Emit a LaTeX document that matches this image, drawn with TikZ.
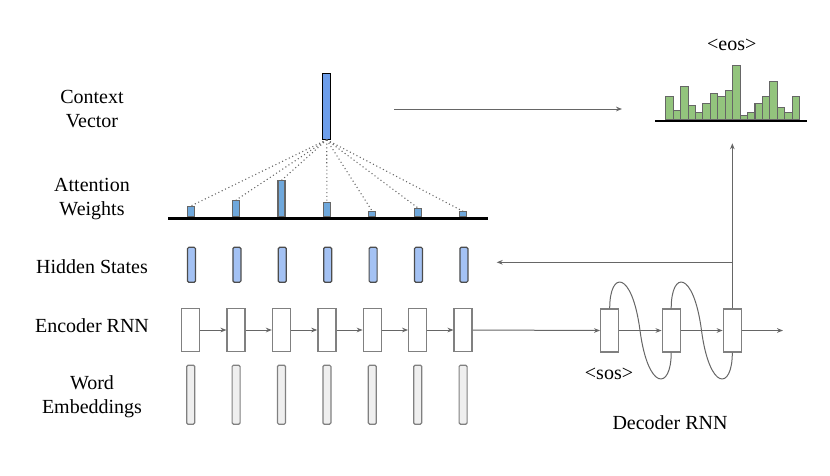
\documentclass[tikz,border=0pt]{standalone}
\usepackage{fontspec}
\setmainfont{Liberation Serif}
\usetikzlibrary{arrows.meta,calc}
\definecolor{ctxblue}{HTML}{6D9EEB}
\definecolor{attblue}{HTML}{6FA8DC}
\definecolor{hidblue}{HTML}{A4C2F4}
\definecolor{wordgray}{HTML}{EFEFEF}
\definecolor{boxgray}{HTML}{808080}
\definecolor{linegray}{HTML}{666666}
\definecolor{bargreen}{HTML}{93C47D}
\tikzset{
  lbl/.style={font=\fontsize{15}{18}\selectfont, align=center, inner sep=0pt},
  rnnbox/.style={draw=boxgray, fill=white, line width=1pt, minimum width=13.5pt, minimum height=32.25pt, inner sep=0pt},
  hidbox/.style={draw=black!70, fill=hidblue, line width=0.9pt, rounded corners=1pt, minimum width=6pt, minimum height=26.25pt, inner sep=0pt},
  wordbox/.style={draw=boxgray, fill=wordgray, line width=0.9pt, rounded corners=1pt, minimum width=6pt, minimum height=44.25pt, inner sep=0pt},
  ctxbox/.style={draw=black, fill=ctxblue, line width=0.9pt, minimum width=6pt, minimum height=49.5pt, inner sep=0pt},
  attbar/.style={draw=linegray, fill=attblue, line width=0.8pt, minimum width=5.25pt, inner sep=0pt, anchor=south},
  histbar/.style={draw=linegray, fill=bargreen, line width=0.8pt, minimum width=5.58pt, inner sep=0pt, anchor=south},
  conn/.style={draw=linegray, line width=0.75pt},
  arr/.style={conn, -{Stealth[length=4.5pt,width=3.5pt]}},
  baseln/.style={draw=black, line width=2pt},
}
\begin{document}
\begin{tikzpicture}[x=0.75pt,y=-0.75pt]
\useasboundingbox (0,0) rectangle (830,475);

% left labels
\node[lbl] (lctx) at (92,109) {Context\\Vector};
\node[lbl] (latt) at (92,199) {Attention\\Weights};
\node[lbl] (lhid) at (92,266.5) {Hidden States};
\node[lbl] (lenc) at (92,325.5) {Encoder RNN};
\node[lbl] (lword) at (92,397) {Word\\Embeddings};

% encoder columns
\foreach \i in {1,...,7} {
  \pgfmathsetmacro{\cx}{190.7+45.4*(\i-1)}
  \node[hidbox] (hid\i) at (\cx+0.8,264.8) {};
  \node[rnnbox] (enc\i) at (\cx,330) {};
  \node[wordbox] (word\i) at (\cx,394.7) {};
}
\foreach \i [remember=\i as \j (initially 1)] in {2,...,7} {
  \draw[arr] (enc\j.east) -- (enc\i.west);
}

% attention weights
\node[ctxbox] (ctx) at (326.7,106.2) {};
\coordinate (attL) at (168,218.3);
\coordinate (attR) at (488,218.3);
\foreach \i/\h in {1/9.7,2/15.7,3/35.4,4/14,5/4.4,6/8,7/4.4} {
  \pgfmathsetmacro{\cx}{190.7+45.4*(\i-1)}
  \node[attbar, minimum height=\h*0.75pt] (att\i) at (\cx,216.8) {};
  \draw[linegray, line width=0.8pt, dotted] (ctx.south) -- (att\i.north);
}
\draw[baseln] (attL) -- (attR);

% output distribution
\coordinate (histL) at (655,121);
\coordinate (histR) at (807,121);
\foreach \i/\h in {1/22.7,2/9.3,3/32.7,4/13.7,5/6.7,6/16,7/25.7,8/22.7,9/28.7,10/54,11/3.7,12/6.7,13/16,14/22.7,15/37.7,16/11.7,17/6.7,18/22.7} {
  \pgfmathsetmacro{\cx}{665.7+3.72+7.44*(\i-1)}
  \node[histbar, minimum height=\h*0.75pt] (hb\i) at (\cx,120) {};
}
\draw[baseln] (histL) -- (histR);
\node[lbl] (eos) at (731.7,45) {\textless eos\textgreater};

% context -> output
\coordinate (ctxarrS) at (394,109);
\coordinate (ctxarrE) at (622,109);
\draw[arr] (ctxarrS) -- (ctxarrE);

% decoder
\node[rnnbox] (dec1) at (609.7,330.5) {};
\node[rnnbox] (dec2) at (671.2,330.5) {};
\node[rnnbox] (dec3) at (732.3,330.5) {};
\coordinate (decout) at (783,330.5);
\draw[arr] (enc7.east) -- (dec1.west);
\draw[arr] (dec1.east) -- (dec2.west);
\draw[arr] (dec2.east) -- (dec3.west);
\draw[arr] (dec3.east) -- (decout);

% feedback loops
\draw[conn] (dec1.north) .. controls +(0,-38) and (632,270) .. (640,330.5)
  .. controls (648,391) and ($(dec2.south)+(0,38)$) .. (dec2.south);
\draw[conn] (dec2.north) .. controls +(0,-38) and (693.5,270) .. (701.5,330.5)
  .. controls (709.5,391) and ($(dec3.south)+(0,38)$) .. (dec3.south);

% feedback to attention/output
\coordinate (fbjoin) at (732.3,262.3);
\coordinate (fbup) at (732.3,143.3);
\coordinate (fbleft) at (496.7,262.3);
\draw[arr] (dec3.north) -- (fbup);
\draw[arr] (fbjoin) -- (fbleft);

\node[lbl] (sos) at (609,374) {\textless sos\textgreater};
\node[lbl] (declbl) at (670,422.7) {Decoder RNN};
\end{tikzpicture}
\end{document}
